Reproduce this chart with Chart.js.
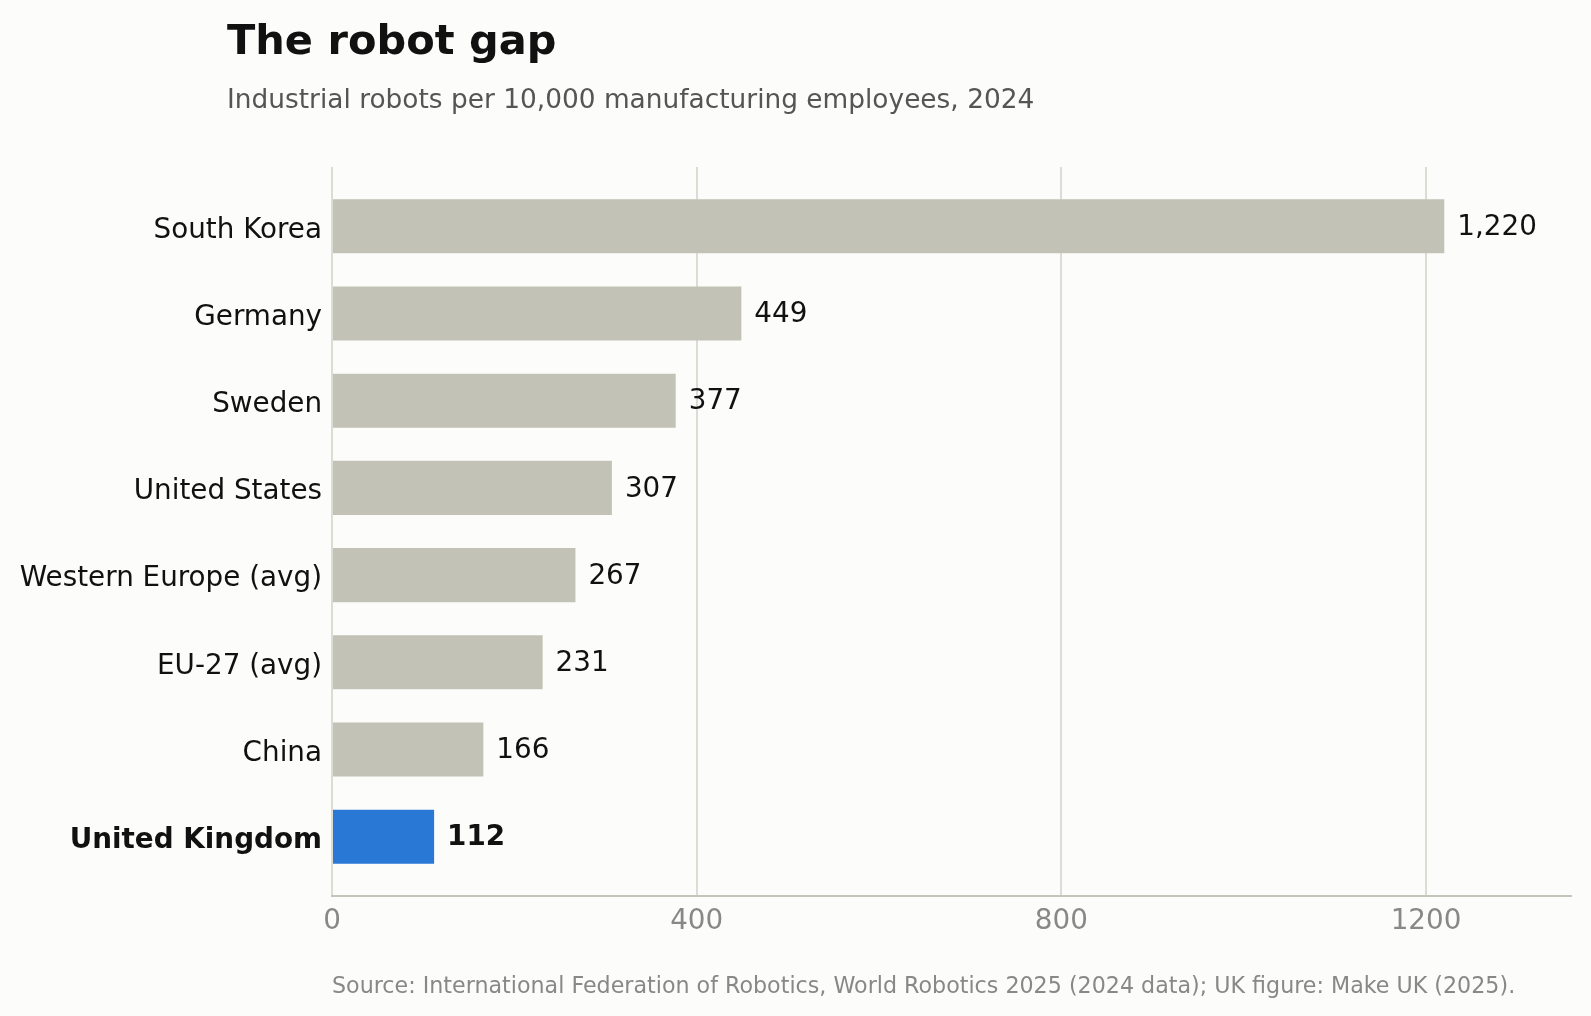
<!DOCTYPE html>
<html>
<head>
<meta charset="utf-8">
<script src="https://cdn.jsdelivr.net/npm/chart.js@4/dist/chart.umd.min.js"></script>
<style>
  html, body { margin: 0; padding: 0; background: #fcfcfb; }
  #wrap { width: 1591px; height: 1016px; }
</style>
</head>
<body>
<div id="wrap"><canvas id="chart"></canvas></div>
<script>
// data, top to bottom
let categories = ['South Korea', 'Germany', 'Sweden', 'United States',
                  'Western Europe (avg)', 'EU-27 (avg)', 'China', 'United Kingdom'];
let robotDensity = [1220, 449, 377, 307, 267, 231, 166, 112];
let xTicks = [0, 400, 800, 1200];
let highlight = 'United Kingdom';

let titleText = 'The robot gap';
let subtitleText = 'Industrial robots per 10,000 manufacturing employees, 2024';
let sourceText = 'Source: International Federation of Robotics, World Robotics 2025 (2024 data); UK figure: Make UK (2025).';

let font = 'DejaVu Sans';
let grey = '#c2c2b6';
let blue = '#2a78d6';

function isHighlight(i) {
    return categories[i] === highlight;
}

// title, subtitle and source text
let textPlugin = {
    id: 'texts',
    afterDraw(chart) {
        let c = chart.ctx;
        c.save();
        c.textAlign = 'left';
        c.textBaseline = 'alphabetic';
        c.fillStyle = '#111111';
        c.font = 'bold 41.5px "' + font + '"';
        c.fillText(titleText, 227, 54);
        c.fillStyle = '#555555';
        c.font = '26.4px "' + font + '"';
        c.fillText(subtitleText, 227, 108);
        c.fillStyle = '#888888';
        c.font = '22.2px "' + font + '"';
        c.fillText(sourceText, chart.chartArea.left, 993);
        c.restore();
    }
};

// value labels at the end of each bar
let valuePlugin = {
    id: 'values',
    afterDatasetsDraw(chart) {
        let c = chart.ctx;
        let meta = chart.getDatasetMeta(0);
        c.save();
        c.textAlign = 'left';
        c.textBaseline = 'middle';
        c.fillStyle = '#111111';
        meta.data.forEach(function (bar, i) {
            c.font = (isHighlight(i) ? 'bold ' : '') + '27.8px "' + font + '"';
            c.fillText(robotDensity[i].toLocaleString('en-US'), bar.x + 13, bar.y + 1.5);
        });
        c.restore();
    }
};

let ctx = document.getElementById('chart');

let myBarChart = new Chart(ctx, {
    type: 'bar',
    data: {
        datasets: [{
            data: robotDensity.map(function (v, i) { return { x: v, y: i }; }),
            backgroundColor: categories.map(function (c, i) { return isHighlight(i) ? blue : grey; }),
            borderWidth: 0,
            barPercentage: 0.62,
            categoryPercentage: 1
        }]
    },
    options: {
        indexAxis: 'y',
        responsive: true,
        maintainAspectRatio: false,
        animation: false,
        layout: { padding: { top: 167, right: 20, left: 0, bottom: 0 } },
        plugins: {
            legend: { display: false },
            tooltip: { enabled: false }
        },
        scales: {
            x: {
                type: 'linear',
                min: 0,
                max: 1359,
                afterBuildTicks: function (scale) {
                    scale.ticks = xTicks.map(function (v) { return { value: v }; });
                },
                afterFit: function (scale) { scale.height = 120; },
                grid: { color: '#dddcd4', lineWidth: 2, drawTicks: false },
                border: { display: true, color: '#c5c5bc', width: 2 },
                ticks: {
                    color: '#888888',
                    padding: 9,
                    font: { family: font, size: 27.8 },
                    callback: function (v) { return String(v); }
                }
            },
            y: {
                type: 'linear',
                reverse: true,
                offset: false,
                min: -0.68,
                max: 7.68,
                afterBuildTicks: function (scale) {
                    scale.ticks = categories.map(function (c, i) { return { value: i }; });
                },
                afterFit: function (scale) { scale.width = 332; },
                grid: { display: false, drawTicks: false },
                border: { display: false },
                ticks: {
                    autoSkip: false,
                    color: '#111111',
                    padding: 10,
                    labelOffset: 4,
                    font: function (c) {
                        return { family: font, size: 27.8, weight: isHighlight(c.index) ? 'bold' : 'normal' };
                    },
                    callback: function (v) { return categories[v]; }
                }
            }
        }
    },
    plugins: [textPlugin, valuePlugin]
});
</script>
</body>
</html>
